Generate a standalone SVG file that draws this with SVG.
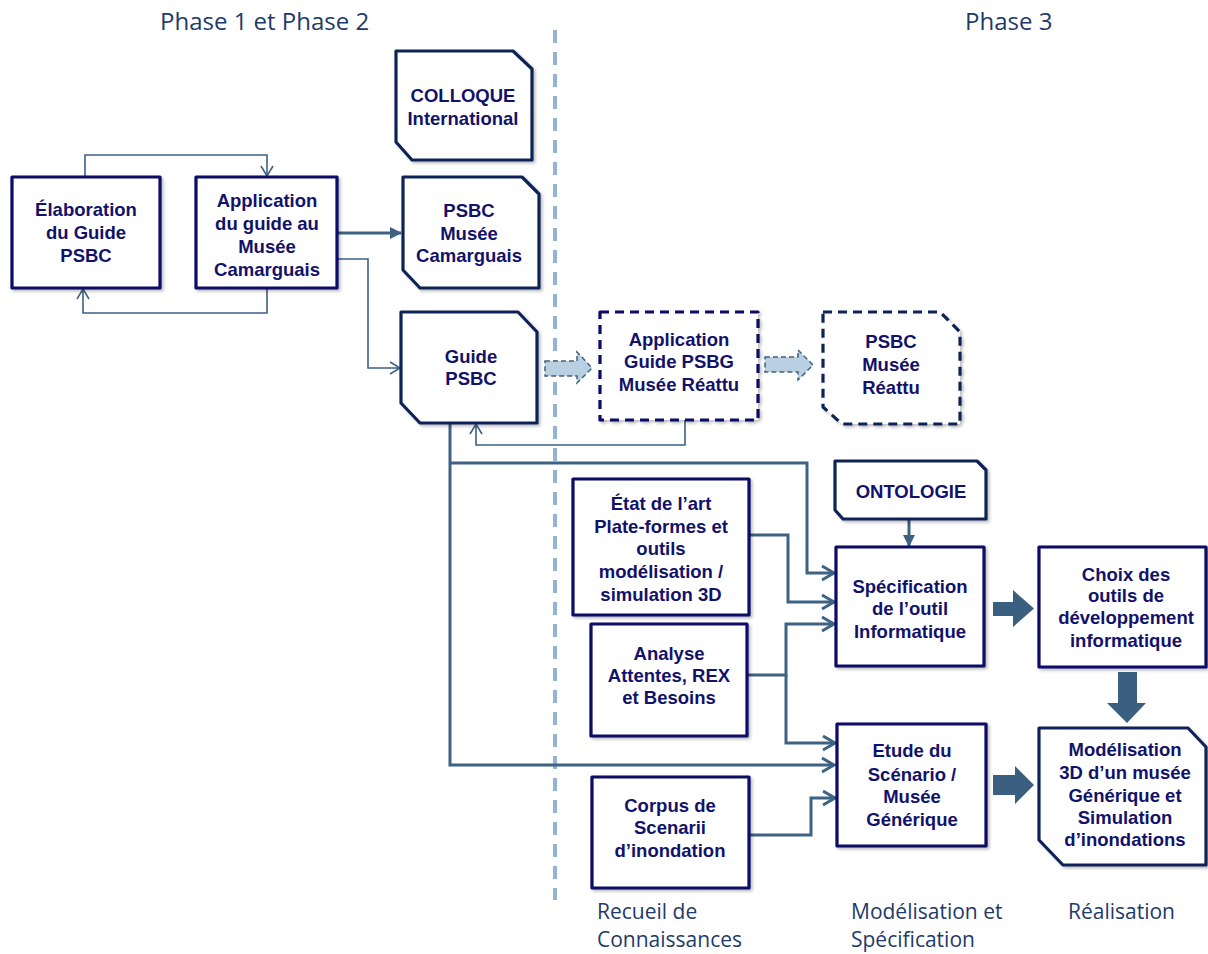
<svg xmlns="http://www.w3.org/2000/svg" width="1208" height="954" viewBox="0 0 1208 954">
<style>
.box{fill:#ffffff;stroke:#0b0b66;stroke-width:3.2;stroke-linejoin:round;filter:url(#sh)}
.oct{fill:#ffffff;stroke:#0f2457;stroke-width:3.2;stroke-linejoin:round;filter:url(#sh)}
.dash{stroke-dasharray:9 6}
.t{font-family:"Liberation Sans",Arial,sans-serif;font-weight:bold;font-size:18.5px;fill:#12126a;text-anchor:middle}
.lbl{font-family:"Open Sans","Liberation Sans",sans-serif;font-size:21px;fill:#1e3a6a}
.top{font-size:24px}
.thin{fill:none;stroke:#3d6283;stroke-width:1.6}
.thick{fill:none;stroke:#3d6283;stroke-width:3}
.blk{fill:#3a5f80}
.lt{fill:#b9d0e3;stroke:#3d6283;stroke-width:1.5;stroke-dasharray:5 3}
</style>
<defs>
<filter id="sh" x="-10%" y="-10%" width="130%" height="130%"><feDropShadow dx="2" dy="2" stdDeviation="1.5" flood-color="#000" flood-opacity="0.25"/></filter>
<marker id="ao" markerUnits="userSpaceOnUse" markerWidth="20" markerHeight="20" viewBox="-14 -10 16 20" refX="0" refY="0" orient="auto"><path d="M-10,-6 L0,0 L-10,6" fill="none" stroke="#3d6283" stroke-width="1.6"/></marker>
<marker id="aT" markerUnits="userSpaceOnUse" markerWidth="20" markerHeight="20" viewBox="-14 -10 16 20" refX="0" refY="0" orient="auto"><path d="M-12,-7 L0,0 L-12,7" fill="none" stroke="#3d6283" stroke-width="3"/></marker>
<marker id="af" markerUnits="userSpaceOnUse" markerWidth="14" markerHeight="14" viewBox="-12 -7 13 14" refX="0" refY="0" orient="auto"><path d="M-11,-6 L1,0 L-11,6 Z" fill="#3d6283"/></marker>
</defs>
<rect width="1208" height="954" fill="#ffffff"/>

<g id="phase-labels">
<text class="lbl top" x="160" y="30">Phase 1 et Phase 2</text>
<text class="lbl top" x="965" y="30">Phase 3</text>
<text class="lbl" x="597" y="919">Recueil de</text>
<text class="lbl" x="597" y="947">Connaissances</text>
<text class="lbl" x="851" y="919">Modélisation et</text>
<text class="lbl" x="851" y="947">Spécification</text>
<text class="lbl" x="1068" y="919">Réalisation</text>
</g>

<g id="separator">
<path d="M555,30 V900" stroke="#93b5d3" stroke-width="4" stroke-dasharray="13 9" fill="none"/>
</g>

<g id="connectors">
<path class="thin" d="M85,177 V155 H267 V176" marker-end="url(#ao)"/>
<path class="thin" d="M267,288 V313 H83 V289" marker-end="url(#ao)"/>
<path class="thick" d="M337,233 H401" marker-end="url(#af)"/>
<path class="thin" d="M337,259 H368 V368 H400" marker-end="url(#ao)"/>
<path class="thin" d="M685,420 V445 H476 V424" marker-end="url(#ao)"/>
<path class="thick" d="M450,423 V765 H834" marker-end="url(#aT)"/>
<path class="thick" d="M450,463 H807 V573 H834" marker-end="url(#aT)"/>
<path class="thick" d="M749,535 H788 V602 H834" marker-end="url(#aT)"/>
<path class="thick" d="M747,675 H786 V624 H834" marker-end="url(#aT)"/>
<path class="thick" d="M786,675 V743 H835" marker-end="url(#aT)"/>
<path class="thick" d="M749,835 H811 V798 H835" marker-end="url(#aT)"/>
<path class="thick" d="M909,519 V546" marker-end="url(#af)"/>
<path class="lt" d="M545,361 H577 V352 L592,368 L577,383 V376 H545 Z"/>
<path class="lt" d="M765,357 H798 V350 L813,365 L798,380 V372 H765 Z"/>
<path class="blk" d="M993,602 H1013 V590 L1034,608.5 L1013,627 V616 H993 Z"/>
<path class="blk" d="M1118,672 H1137 V703 H1146 L1127,723 L1107,703 H1118 Z"/>
<path class="blk" d="M993,775 H1015 V766 L1034,785 L1015,804 V795 H993 Z"/>
</g>

<g id="elaboration">
<rect class="box" x="12" y="177" width="148" height="111"/>
<text class="t" x="86" y="216">Élaboration</text>
<text class="t" x="86" y="239">du Guide</text>
<text class="t" x="86" y="262">PSBC</text>
</g>

<g id="application-camarguais">
<rect class="box" x="196" y="177" width="141" height="111"/>
<text class="t" x="267" y="207">Application</text>
<text class="t" x="267" y="230">du guide au</text>
<text class="t" x="267" y="253">Musée</text>
<text class="t" x="267" y="276">Camarguais</text>
</g>

<g id="colloque">
<path class="oct" d="M396,51 H513 L532,69 V160 H412 L396,142 Z"/>
<text class="t" x="463" y="102">COLLOQUE</text>
<text class="t" x="463" y="125">International</text>
</g>

<g id="psbc-camarguais">
<path class="oct" d="M403,177 H522 L539,194 V288 H420 L403,270 Z"/>
<text class="t" x="469" y="217">PSBC</text>
<text class="t" x="469" y="240">Musée</text>
<text class="t" x="469" y="262">Camarguais</text>
</g>

<g id="guide-psbc">
<path class="oct" d="M401,312 H518 L537,332 V423 H420 L401,403 Z"/>
<text class="t" x="471" y="363">Guide</text>
<text class="t" x="471" y="385">PSBC</text>
</g>

<g id="application-reattu">
<rect class="box dash" x="600" y="312" width="158" height="108"/>
<text class="t" x="679" y="346">Application</text>
<text class="t" x="679" y="368">Guide PSBG</text>
<text class="t" x="679" y="391">Musée Réattu</text>
</g>

<g id="psbc-reattu">
<path class="oct dash" d="M823,312 H940 L960,332 V424 H842 L823,407 Z"/>
<text class="t" x="891" y="348">PSBC</text>
<text class="t" x="891" y="371">Musée</text>
<text class="t" x="891" y="394">Réattu</text>
</g>

<g id="etat-art">
<rect class="box" x="573" y="479" width="176" height="136"/>
<text class="t" x="661" y="510">État de l’art</text>
<text class="t" x="661" y="533">Plate-formes et</text>
<text class="t" x="661" y="555">outils</text>
<text class="t" x="661" y="578">modélisation /</text>
<text class="t" x="661" y="601">simulation 3D</text>
</g>

<g id="ontologie">
<path class="oct" d="M835,461 H977 L986,470 V519 H843 L835,510 Z"/>
<text class="t" x="911" y="498">ONTOLOGIE</text>
</g>

<g id="specification">
<rect class="box" x="836" y="547" width="148" height="119"/>
<text class="t" x="910" y="593">Spécification</text>
<text class="t" x="910" y="615">de l’outil</text>
<text class="t" x="910" y="638">Informatique</text>
</g>

<g id="choix">
<rect class="box" x="1039" y="547" width="167" height="120"/>
<text class="t" x="1126" y="581">Choix des</text>
<text class="t" x="1126" y="602">outils de</text>
<text class="t" x="1126" y="624">développement</text>
<text class="t" x="1126" y="647">informatique</text>
</g>

<g id="analyse">
<rect class="box" x="591" y="624" width="156" height="112"/>
<text class="t" x="669" y="660">Analyse</text>
<text class="t" x="669" y="682">Attentes, REX</text>
<text class="t" x="669" y="704">et Besoins</text>
</g>

<g id="corpus">
<rect class="box" x="592" y="777" width="157" height="111"/>
<text class="t" x="670" y="812">Corpus de</text>
<text class="t" x="670" y="834">Scenarii</text>
<text class="t" x="670" y="857">d’inondation</text>
</g>

<g id="etude">
<rect class="box" x="837" y="724" width="149" height="122"/>
<text class="t" x="912" y="757">Etude du</text>
<text class="t" x="912" y="781">Scénario /</text>
<text class="t" x="912" y="803">Musée</text>
<text class="t" x="912" y="826">Générique</text>
</g>

<g id="modelisation">
<path class="oct" d="M1039,728 H1188 L1206,747 V865 H1063 L1039,840 Z"/>
<text class="t" x="1125" y="756">Modélisation</text>
<text class="t" x="1125" y="779">3D d’un musée</text>
<text class="t" x="1125" y="802">Générique et</text>
<text class="t" x="1125" y="824">Simulation</text>
<text class="t" x="1125" y="846">d’inondations</text>
</g>
</svg>
